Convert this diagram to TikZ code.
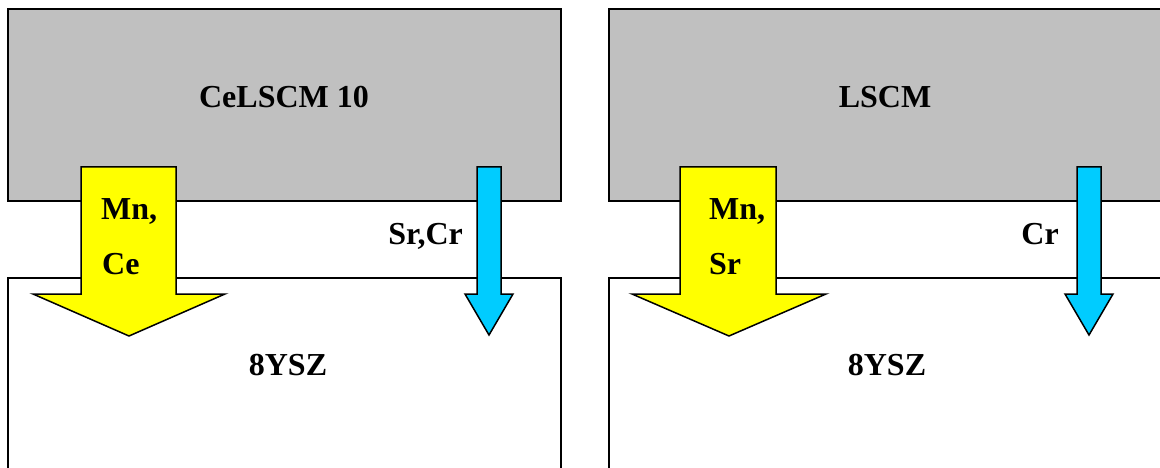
\documentclass[tikz,border=0pt]{standalone}
\usepackage{fontspec}
\setmainfont{Liberation Serif}
\definecolor{layergray}{RGB}{192,192,192}
\definecolor{ylw}{RGB}{255,255,0}
\definecolor{cyanblue}{RGB}{0,204,255}
\begin{document}
\begin{tikzpicture}[x=1pt,y=-1pt,
  layer/.style={draw=black,line width=2pt},
  bigarrow/.style={draw=black,line width=1.5pt,fill=ylw,line join=miter},
  smallarrow/.style={draw=black,line width=1.5pt,fill=cyanblue,line join=miter},
  lbl/.style={font=\bfseries\fontsize{32}{38}\selectfont,inner sep=0pt}]
\useasboundingbox (0,0) rectangle (1160,468);
\clip (0,0) rectangle (1160,468);
% left
\draw[layer,fill=layergray] (8,9) rectangle (561,201);
\draw[layer,fill=white] (8,278) rectangle (561,490);
\draw[bigarrow] (81,167) -- (176,167) -- (176,294) -- (225,294) -- (129,336) -- (33,294) -- (81,294) -- cycle;
\draw[smallarrow] (477,167) -- (501,167) -- (501,294) -- (513,294) -- (489,335) -- (465,294) -- (477,294) -- cycle;
\node[lbl,anchor=base] (t1) at (284,108) {CeLSCM 10};
\node[lbl,anchor=base] (b1) at (288,375) {8YSZ};
\node[lbl,anchor=base west] (m1) at (101,219) {Mn,};
\node[lbl,anchor=base west] (c1) at (102,274) {Ce};
\node[lbl,anchor=base east] (s1) at (463,244) {Sr,Cr};
% right
\draw[layer,fill=layergray] (609,9) rectangle (1175,201);
\draw[layer,fill=white] (609,278) rectangle (1175,490);
\draw[bigarrow] (680,167) -- (776,167) -- (776,294) -- (826,294) -- (729,336) -- (632,294) -- (680,294) -- cycle;
\draw[smallarrow] (1077,167) -- (1101,167) -- (1101,294) -- (1113,294) -- (1089,335) -- (1065,294) -- (1077,294) -- cycle;
\node[lbl,anchor=base] (t2) at (885,108) {LSCM};
\node[lbl,anchor=base] (b2) at (887,375) {8YSZ};
\node[lbl,anchor=base west] (m2) at (709,219) {Mn,};
\node[lbl,anchor=base west] (c2) at (709,274) {Sr};
\node[lbl,anchor=base east] (s2) at (1059,244) {Cr};
\end{tikzpicture}
\end{document}
